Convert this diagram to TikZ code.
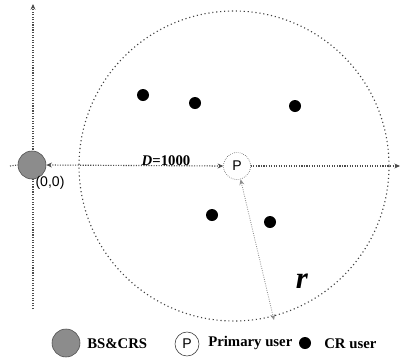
\documentclass[tikz,border=0pt]{standalone}
\usepackage{fontspec}
\setmainfont{Liberation Serif}
\newfontfamily\psans{Liberation Sans}
\usetikzlibrary{arrows.meta}
\begin{document}
\begin{tikzpicture}[x=0.025cm,y=-0.025cm,
  bs/.style={circle,draw=black!70,fill=black!45,minimum size=28*0.025cm,inner sep=0pt},
  pu/.style={circle,draw=black!80,densely dotted,fill=white,minimum size=27*0.025cm,inner sep=0pt,font=\psans\fontsize{10}{12}\selectfont},
  cr/.style={circle,fill=black,minimum size=12*0.025cm,inner sep=0pt},
  axis/.style={black!70,densely dotted,line width=0.8pt},
  lbl/.style={font=\fontsize{10.5}{12}\selectfont,inner sep=0pt},
  tip/.style={-{Stealth[length=4pt,width=3.5pt]}}]
\useasboundingbox (0,0) rectangle (400,362);
% big dotted circle
\draw[black!75,dotted,line width=0.8pt] (234,166) circle[radius=155];
% axes
\coordinate (ybot) at (33,309);
\coordinate (ytop) at (33,4);
\coordinate (xl) at (10,166);
\coordinate (xr) at (400,166);
\draw[axis,tip] (ybot) -- (ytop);
\node[bs] (bs) at (32,165) {};
\node[pu] (p) at (237,166) {P};
\draw[axis] (xl) -- (bs.west);
\draw[axis,tip] (p.east) -- (xr);
\draw[axis,{Stealth[length=4pt,width=3.5pt]}-{Stealth[length=4pt,width=3.5pt]}] (bs.east) -- (p.west);
\node[lbl,anchor=base] (d) at (166,165) {\textbf{\textit{D}=1000}};
% radius
\coordinate (redge) at (274,320);
\draw[black!45,densely dotted,line width=0.6pt,{Stealth[length=4pt,width=3.5pt]}-{Stealth[length=4pt,width=3.5pt]}] (p.-75) -- (redge);
\node[font=\fontsize{22}{24}\selectfont\bfseries\itshape] (r) at (302,281) {r};
\node[lbl,font=\psans\fontsize{10}{12}\selectfont] (o) at (50,183) {(0,0)};
% CR users
\node[cr] (c1) at (143,95) {};
\node[cr] (c2) at (195,103) {};
\node[cr] (c3) at (295,106) {};
\node[cr] (c4) at (212,215) {};
\node[cr] (c5) at (270,222) {};
% legend
\node[bs] (lbs) at (66,343) {};
\node[lbl,anchor=west] (tbs) at (87,344) {\textbf{BS\&CRS}};
\node[pu,draw=black!80,solid,minimum size=24*0.025cm] (lp) at (187,344) {P};
\node[lbl,anchor=west] (tp) at (208,343) {\textbf{Primary user}};
\node[cr] (lcr) at (305,343) {};
\node[lbl,anchor=west] (tcr) at (324,344) {\textbf{CR user}};
\end{tikzpicture}
\end{document}
